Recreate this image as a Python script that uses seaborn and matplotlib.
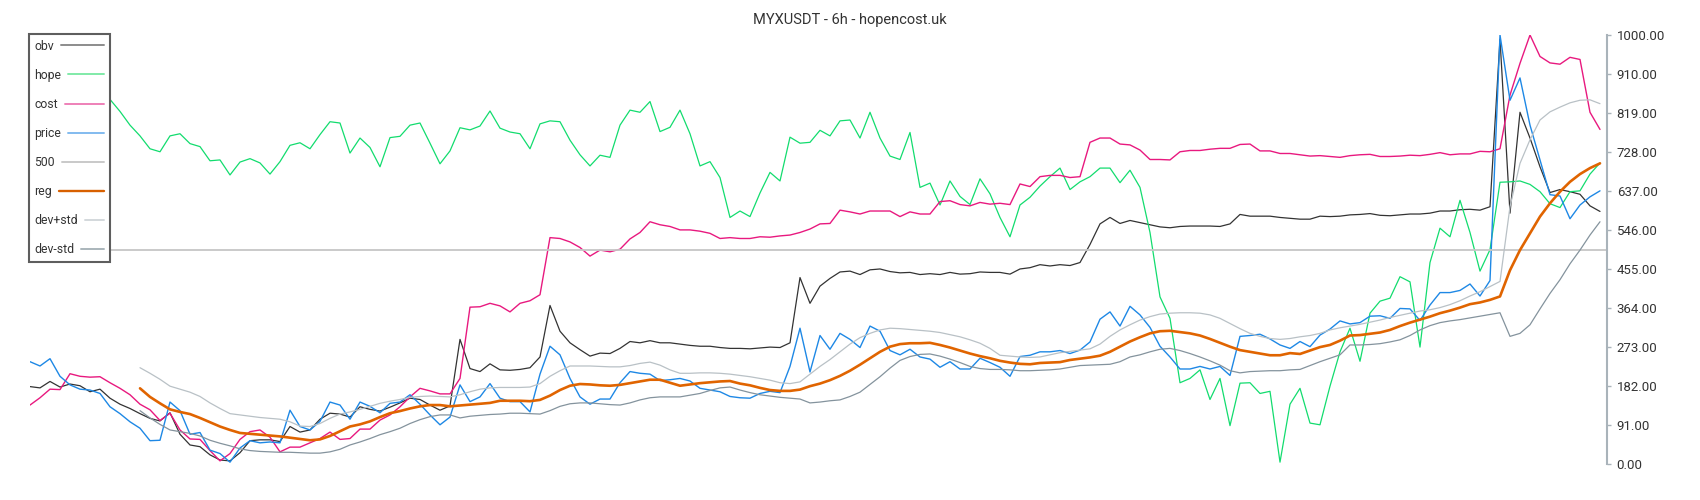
import numpy as np
import pandas as pd
import matplotlib
matplotlib.use("Agg")
import matplotlib.pyplot as plt
import seaborn as sns
from matplotlib.lines import Line2D

sns.set_style("white")
plt.rcParams["font.family"] = ["Roboto", "DejaVu Sans"]

TITLE = "MYXUSDT - 6h - hopencost.uk"
SERIES_NAMES = ["obv", "hope", "cost", "price", "500", "reg", "dev+std", "dev-std"]
TICK_LABELS = ["0.00", "91.00", "182.00", "273.00", "364.00", "455.00",
               "546.00", "637.00", "728.00", "819.00", "910.00", "1000.00"]
LEVEL_500 = 500

PRICE = [
    239, 229, 246, 205, 185, 175, 173, 165, 134, 118,
    99, 84, 55, 56, 145, 125, 70, 74, 33, 25,
    5, 38, 55, 50, 52, 50, 126, 88, 80, 100,
    145, 138, 105, 145, 135, 120, 142, 145, 162, 140,
    115, 92, 110, 185, 146, 157, 188, 154, 146, 146,
    122, 210, 275, 255, 200, 157, 140, 152, 152, 190,
    216, 212, 210, 195, 197, 200, 194, 177, 173, 169,
    158, 155, 154, 165, 170, 167, 228, 317, 215, 300,
    268, 305, 291, 272, 322, 310, 265, 255, 268, 250,
    245, 226, 239, 222, 222, 247, 237, 226, 205, 251,
    254, 262, 262, 265, 258, 266, 285, 338, 355, 322,
    368, 348, 319, 275, 250, 222, 222, 228, 222, 228,
    207, 298, 300, 303, 292, 278, 270, 286, 274, 301,
    315, 334, 327, 330, 345, 346, 340, 363, 362, 335,
    371, 400, 400, 405, 420, 392, 428, 1000, 848, 900,
    790, 709, 628, 625, 572, 604, 623, 637]

HOPE = [
    860, 865, 855, 870, 860, 850, 855, 852, 850, 822,
    790, 765, 735, 728, 765, 770, 747, 740, 707, 709,
    674, 704, 712, 702, 676, 705, 743, 749, 735, 768,
    798, 795, 725, 760, 738, 693, 761, 764, 790, 795,
    748, 700, 730, 784, 779, 788, 823, 783, 774, 770,
    735, 793, 800, 798, 755, 721, 695, 720, 715, 790,
    825, 820, 845, 775, 785, 825, 770, 695, 705, 668,
    575, 590, 577, 632, 680, 660, 762, 748, 750, 778,
    765, 800, 802, 760, 820, 760, 718, 710, 773, 645,
    655, 604, 660, 624, 605, 665, 630, 575, 530, 604,
    622, 648, 670, 690, 640, 658, 670, 690, 690, 656,
    685, 645, 540, 390, 340, 190, 200, 220, 151, 200,
    90, 189, 190, 165, 170, 5, 140, 177, 96, 92,
    182, 262, 317, 240, 352, 380, 387, 437, 425, 273,
    470, 550, 530, 615, 540, 450, 500, 657, 658, 660,
    652, 635, 607, 598, 635, 637, 676, 702]

COST = [
    138, 155, 175, 174, 211, 205, 203, 204, 190, 177,
    162, 140, 127, 102, 119, 80, 59, 58, 32, 8,
    25, 58, 76, 80, 63, 29, 40, 40, 50, 60,
    75, 58, 60, 82, 82, 103, 115, 134, 157, 177,
    171, 164, 164, 200, 366, 367, 375, 369, 355, 375,
    381, 395, 528, 526, 518, 505, 485, 499, 495, 501,
    525, 540, 565, 558, 554, 546, 546, 543, 538, 526,
    528, 526, 526, 530, 529, 532, 534, 540, 548, 560,
    561, 592, 588, 583, 590, 590, 590, 577, 588, 583,
    583, 612, 614, 605, 602, 610, 606, 608, 605, 653,
    647, 670, 673, 673, 668, 670, 750, 760, 760, 746,
    744, 732, 710, 710, 709, 728, 731, 731, 734, 736,
    736, 745, 746, 730, 730, 724, 724, 721, 718, 719,
    717, 715, 719, 721, 722, 717, 717, 718, 720, 719,
    722, 726, 721, 723, 723, 729, 728, 735, 860, 934,
    1000, 950, 935, 932, 948, 943, 820, 780]

OBV = [
    181, 178, 193, 180, 187, 183, 169, 175, 154, 140,
    130, 118, 107, 101, 120, 70, 45, 41, 22, 10,
    8, 27, 55, 57, 57, 53, 88, 75, 80, 105,
    119, 117, 110, 134, 128, 124, 133, 143, 154, 151,
    138, 126, 136, 291, 223, 216, 234, 220, 219, 221,
    225, 250, 370, 310, 283, 267, 252, 259, 258, 270,
    286, 283, 288, 283, 283, 280, 277, 275, 275, 272,
    270, 270, 269, 271, 273, 272, 283, 435, 375, 415,
    433, 448, 450, 442, 453, 455, 449, 446, 447, 442,
    444, 442, 447, 443, 444, 448, 447, 447, 443, 455,
    458, 465, 462, 465, 463, 470, 512, 560, 575, 561,
    568, 563, 558, 553, 551, 554, 555, 555, 555, 554,
    560, 582, 578, 578, 578, 575, 573, 571, 571, 578,
    577, 578, 581, 582, 584, 580, 579, 581, 583, 583,
    585, 590, 590, 593, 594, 592, 600, 990, 585, 820,
    760, 693, 633, 640, 635, 629, 602, 589]

REG = [
    None, None, None, None, None, None, None, None, None, None, None,
    177, 157, 142, 128, 122, 117, 108, 98, 88,
    80, 73, 71, 69, 67, 65, 62, 59, 56, 58,
    66, 77, 88, 93, 100, 110, 119, 124, 130, 135,
    138, 138, 135, 137, 139, 141, 143, 148, 148, 148,
    147, 150, 160, 173, 183, 187, 186, 184, 183, 185,
    189, 193, 197, 197, 190, 183, 186, 189, 191, 193,
    194, 188, 184, 178, 173, 171, 171, 174, 182, 188,
    196, 206, 218, 232, 247, 262, 274, 280, 282, 282,
    283, 278, 272, 265, 258, 252, 247, 241, 237, 234,
    233, 236, 237, 238, 243, 246, 249, 253, 262, 274,
    286, 296, 305, 310, 311, 308, 305, 300, 292, 283,
    274, 266, 262, 258, 254, 254, 259, 257, 265, 273,
    278, 288, 300, 301, 304, 307, 313, 322, 330, 337,
    344, 352, 358, 365, 373, 377, 383, 391, 452, 499,
    538, 577, 608, 635, 658, 676, 690, 701]

DEV_PLUS = [
    None, None, None, None, None, None, None, None, None, None, None,
    225, 212, 198, 182, 175, 168, 158, 143, 130,
    118, 115, 112, 109, 107, 105, 99, 89, 88, 95,
    107, 117, 122, 128, 135, 142, 147, 151, 156, 158,
    159, 158, 157, 162, 169, 175, 178, 179, 179, 179,
    180, 188, 205, 218, 229, 229, 229, 228, 227, 227,
    230, 235, 238, 231, 220, 212, 212, 213, 213, 212,
    210, 207, 204, 200, 196, 190, 188, 192, 210, 228,
    244, 262, 280, 295, 305, 313, 317, 316, 314, 312,
    310, 307, 302, 297, 290, 282, 270, 254, 252, 250,
    249, 250, 255, 260, 263, 266, 269, 280, 298, 313,
    325, 336, 344, 350, 352, 353, 353, 352, 348, 340,
    328, 316, 305, 298, 293, 291, 293, 297, 300, 305,
    313, 318, 322, 326, 331, 336, 342, 347, 352, 357,
    360, 365, 372, 381, 392, 402, 414, 426, 600, 701,
    756, 802, 821, 832, 842, 848, 849, 840]

DEV_MINUS = [
    None, None, None, None, None, None, None, None, None, None, None,
    125, 108, 93, 80, 76, 72, 66, 56, 49,
    43, 36, 32, 30, 29, 28, 28, 27, 26, 26,
    29, 35, 45, 52, 60, 69, 76, 84, 95, 104,
    111, 115, 115, 108, 112, 114, 116, 117, 119, 119,
    118, 117, 125, 135, 141, 143, 143, 141, 139, 138,
    143, 150, 155, 157, 157, 157, 161, 165, 172, 178,
    180, 173, 167, 162, 159, 156, 154, 152, 143, 145,
    148, 150, 158, 168, 186, 204, 224, 242, 251, 256,
    257, 252, 245, 237, 228, 223, 221, 221, 220, 218,
    218, 219, 220, 222, 226, 230, 231, 232, 233, 239,
    250, 255, 262, 268, 270, 265, 258, 250, 241, 231,
    218, 213, 216, 217, 218, 218, 220, 221, 230, 239,
    247, 255, 278, 278, 279, 281, 285, 290, 300, 313,
    323, 330, 334, 337, 341, 345, 349, 353, 298, 305,
    325, 362, 398, 430, 467, 499, 534, 565]

N = len(PRICE)
df = pd.DataFrame({
    "t": np.arange(N),
    "obv": OBV, "hope": HOPE, "cost": COST, "price": PRICE,
    "reg": REG, "dev+std": DEV_PLUS, "dev-std": DEV_MINUS,
}, dtype=float)

STYLE = {
    "obv":     dict(color="#333333", lw=0.9, leg="#8c8c8c", leglw=1.4),
    "hope":    dict(color="#12dc6e", lw=0.9, leg="#80eaa8", leglw=1.4),
    "cost":    dict(color="#e8197f", lw=1.0, leg="#ee80b8", leglw=1.4),
    "price":   dict(color="#1e88e5", lw=1.0, leg="#82bbef", leglw=1.4),
    "500":     dict(color="#c6c6c6", lw=1.3, leg="#c9c9c9", leglw=1.4),
    "reg":     dict(color="#e06400", lw=1.9, leg="#d86000", leglw=1.7),
    "dev+std": dict(color="#b9c1c6", lw=0.9, leg="#d3d8dc", leglw=1.4),
    "dev-std": dict(color="#84939d", lw=0.9, leg="#aab5bb", leglw=1.4),
}

W, H = 1700, 500
fig = plt.figure(figsize=(W / 100, H / 100), dpi=100)
fig.patch.set_facecolor("white")
ax = fig.add_axes([30 / W, 1 - 464.3 / H, 1577 / W, 429.3 / H])

for name in SERIES_NAMES:
    st = STYLE[name]
    if name == "500":
        ax.axhline(LEVEL_500, color=st["color"], lw=st["lw"], zorder=2)
    else:
        sns.lineplot(data=df, x="t", y=name, ax=ax, color=st["color"],
                     linewidth=st["lw"], estimator=None, errorbar=None,
                     legend=False)

ax.set_xlim(0, N - 1 + 0.7)
ax.set_ylim(0, 1000)
ax.set_xlabel("")
ax.set_ylabel("")
ax.set_xticks([])
ax.yaxis.tick_right()
ax.set_yticks([float(s) for s in TICK_LABELS])
ax.set_yticklabels(TICK_LABELS)
for s in ["left", "top", "bottom"]:
    ax.spines[s].set_visible(False)
ax.spines["right"].set_color("#a9b3ba")
ax.spines["right"].set_linewidth(1.5)
ax.tick_params(axis="y", which="both", right=True, left=False, length=3,
               width=1, color="#a9b3ba", pad=4, labelsize=9.5,
               labelcolor="#333333")
ax.grid(False)

fig.text(0.5, 1 - 20 / H, TITLE, ha="center", va="center",
         fontsize=10.5, color="#333333")

handles = [Line2D([], [], color=STYLE[n]["leg"], lw=STYLE[n]["leglw"])
           for n in SERIES_NAMES]
FS = 8.8
HL = 1.6
HTP = 0.55
leg = ax.legend(handles, SERIES_NAMES, loc="upper left",
                bbox_to_anchor=(-0.0006, 1.0023), borderaxespad=0.0,
                fontsize=FS, labelspacing=1.32, handlelength=HL,
                handletextpad=HTP, borderpad=0.45, markerfirst=False,
                frameon=True, fancybox=False, framealpha=1.0,
                edgecolor="#5e5e5e", facecolor="white")
leg.get_frame().set_linewidth(1.5)
for t in leg.get_texts():
    t.set_color("#333333")
leg.set_zorder(10)

fig.canvas.draw()
try:
    r = fig.canvas.get_renderer()
    dpi_cor = r.points_to_pixels(1.0)
    col = leg._legend_handle_box.get_children()[0]
    items = col.get_children()
    sep_px = HTP * FS * dpi_cor
    tws = [it.get_children()[0].get_bbox(r).width for it in items]
    base = HL * FS * dpi_cor
    total = max(tws) + sep_px + base
    for it, tw in zip(items, tws):
        da = it.get_children()[1]
        new_w = (total - tw - sep_px) / dpi_cor
        da.width = new_w
        for ch in da.get_children():
            if isinstance(ch, Line2D):
                n_pts = len(np.atleast_1d(ch.get_ydata()))
                ch.set_xdata(np.linspace(0, new_w, n_pts))
except Exception as e:
    print("legend tweak failed:", e)

fig.savefig("out.png", dpi=100, facecolor="white")
